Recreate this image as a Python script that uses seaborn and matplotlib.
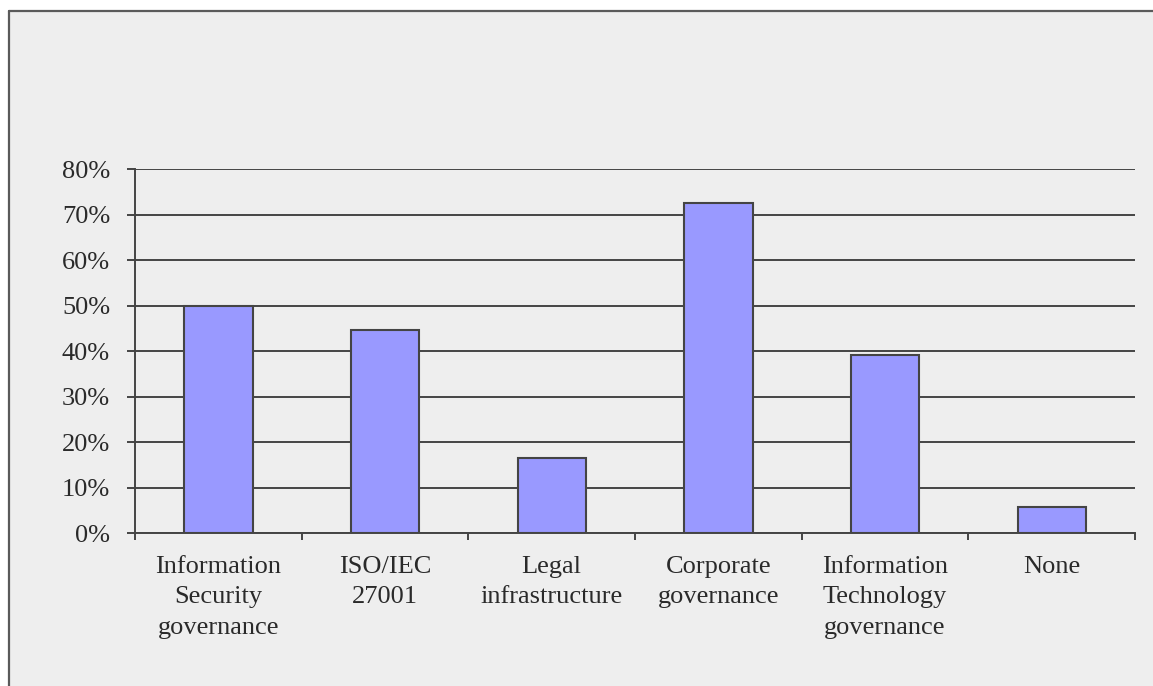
import matplotlib
matplotlib.use("Agg")
import matplotlib.pyplot as plt
from matplotlib.patches import Rectangle
from matplotlib.lines import Line2D
from matplotlib.ticker import FixedLocator, FuncFormatter
import seaborn as sns
import pandas as pd

# Share of respondents per governance area
categories = [
    "Information\nSecurity\ngovernance",
    "ISO/IEC\n27001",
    "Legal\ninfrastructure",
    "Corporate\ngovernance",
    "Information\nTechnology\ngovernance",
    "None",
]
shares = [50.0, 44.7, 16.6, 72.5, 39.1, 5.7]
y_ticks = [0, 10, 20, 30, 40, 50, 60, 70, 80]

bg = "#eeeeee"
line_col = "#444444"
text_col = "#2a2a2a"
bar_col = "#9999ff"

sns.set_theme(style="white")
plt.rcParams["font.family"] = ["Liberation Serif", "DejaVu Serif"]

W, H = 1153, 686
fig = plt.figure(figsize=(W / 100, H / 100), dpi=100, facecolor="white")

# Chart area background, framed on the top and left edges only
x0, y0 = 9 / W, 1 - 11 / H
fig.patches.append(Rectangle((x0, -0.1), 1.2, y0 + 0.1, transform=fig.transFigure,
                             facecolor=bg, edgecolor="none", zorder=-10))
fig.lines.append(Line2D([x0, x0], [0, y0], transform=fig.transFigure,
                        color="#5a5a5a", linewidth=1.6, zorder=-5))
fig.lines.append(Line2D([x0, 1], [y0, y0], transform=fig.transFigure,
                        color="#5a5a5a", linewidth=1.6, zorder=-5))

ax = fig.add_axes([135 / W, 1 - 533.3 / H, 1000 / W, (533.3 - 169) / H])
ax.set_facecolor(bg)
ax.patch.set_alpha(0)

df = pd.DataFrame({"category": categories, "share": shares})
sns.barplot(data=df, x="category", y="share", color=bar_col, saturation=1,
            width=0.41, edgecolor=line_col, linewidth=1.5, ax=ax, zorder=3)

ax.set_xlim(-0.5, len(categories) - 0.5)
ax.set_ylim(0, 80)
ax.set_yticks(y_ticks)
ax.yaxis.set_major_formatter(FuncFormatter(lambda v, _: f"{v:.0f}%"))
ax.grid(axis="y", color=line_col, linewidth=1.4, zorder=1)
ax.set_axisbelow(True)

for side in ["top", "right"]:
    ax.spines[side].set_visible(False)
for side in ["left", "bottom"]:
    ax.spines[side].set_color(line_col)
    ax.spines[side].set_linewidth(1.4)

ax.set_xlabel("")
ax.set_ylabel("")

# Category separators as small ticks below the axis
ax.xaxis.set_minor_locator(FixedLocator([i - 0.5 for i in range(len(categories) + 1)]))
ax.tick_params(axis="x", which="major", length=0, pad=16, labelsize=19,
               labelcolor=text_col)
ax.tick_params(axis="x", which="minor", bottom=True, length=5, width=1.4,
               color=line_col)
ax.tick_params(axis="y", which="major", left=True, length=6, width=1.4,
               color=line_col, pad=12, labelsize=19, labelcolor=text_col)

for lbl in ax.get_xticklabels():
    lbl.set_linespacing(1.5)
    lbl.set_va("top")

fig.savefig("out.png", dpi=100, facecolor=fig.get_facecolor())
